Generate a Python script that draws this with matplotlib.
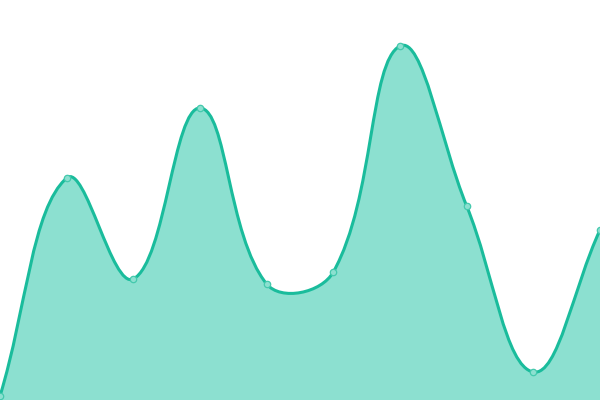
import numpy as np
import matplotlib
matplotlib.use("Agg")
import matplotlib.pyplot as plt
from matplotlib.path import Path
from matplotlib.patches import PathPatch

categories = list(range(10))
values = [4, 222, 121, 292, 116, 128, 354, 194, 28, 170]

W, H = 600, 400
fig = plt.figure(figsize=(6, 4), dpi=100)
ax = fig.add_axes([0, 0, 1, 1])
xmin, xmax = 0, len(categories) - 1
ymin, ymax = 0, 400
ax.set_xlim(xmin, xmax)
ax.set_ylim(ymin, ymax)
ax.axis("off")

sx = W / (xmax - xmin)
sy = H / (ymax - ymin)
px = np.array(categories, float) * sx
py = np.array(values, float) * sy

tension = 0.4
n = len(px)
cps = []
for i in range(n):
    pp = (px[max(i - 1, 0)], py[max(i - 1, 0)])
    c = (px[i], py[i])
    nx = (px[min(i + 1, n - 1)], py[min(i + 1, n - 1)])
    d01 = np.hypot(c[0] - pp[0], c[1] - pp[1])
    d12 = np.hypot(nx[0] - c[0], nx[1] - c[1])
    tot = d01 + d12
    s01 = d01 / tot if tot else 0
    s12 = d12 / tot if tot else 0
    fa, fb = tension * s01, tension * s12
    prevc = (c[0] - fa * (nx[0] - pp[0]), c[1] - fa * (nx[1] - pp[1]))
    nextc = (c[0] + fb * (nx[0] - pp[0]), c[1] + fb * (nx[1] - pp[1]))
    cps.append((prevc, nextc))

verts = [(px[0] / sx, py[0] / sy)]
codes = [Path.MOVETO]
for i in range(n - 1):
    a = cps[i][1]
    b = cps[i + 1][0]
    verts += [(a[0] / sx, a[1] / sy), (b[0] / sx, b[1] / sy), (px[i + 1] / sx, py[i + 1] / sy)]
    codes += [Path.CURVE4] * 3

line_path = Path(verts, codes)
fill_verts = verts + [(xmax, ymin), (xmin, ymin), verts[0]]
fill_codes = codes + [Path.LINETO, Path.LINETO, Path.CLOSEPOLY]
ax.add_patch(PathPatch(Path(fill_verts, fill_codes), facecolor="#8ce0d0", edgecolor="none", zorder=1))
ax.add_patch(PathPatch(line_path, facecolor="none", edgecolor="#1abc9c", linewidth=2.2, zorder=2))
ax.plot(categories, values, "o", markersize=4.6, markerfacecolor="#8ce0d0",
        markeredgecolor="#44c9ad", markeredgewidth=0.9, zorder=3, clip_on=False)

fig.savefig("out.png", dpi=100)
